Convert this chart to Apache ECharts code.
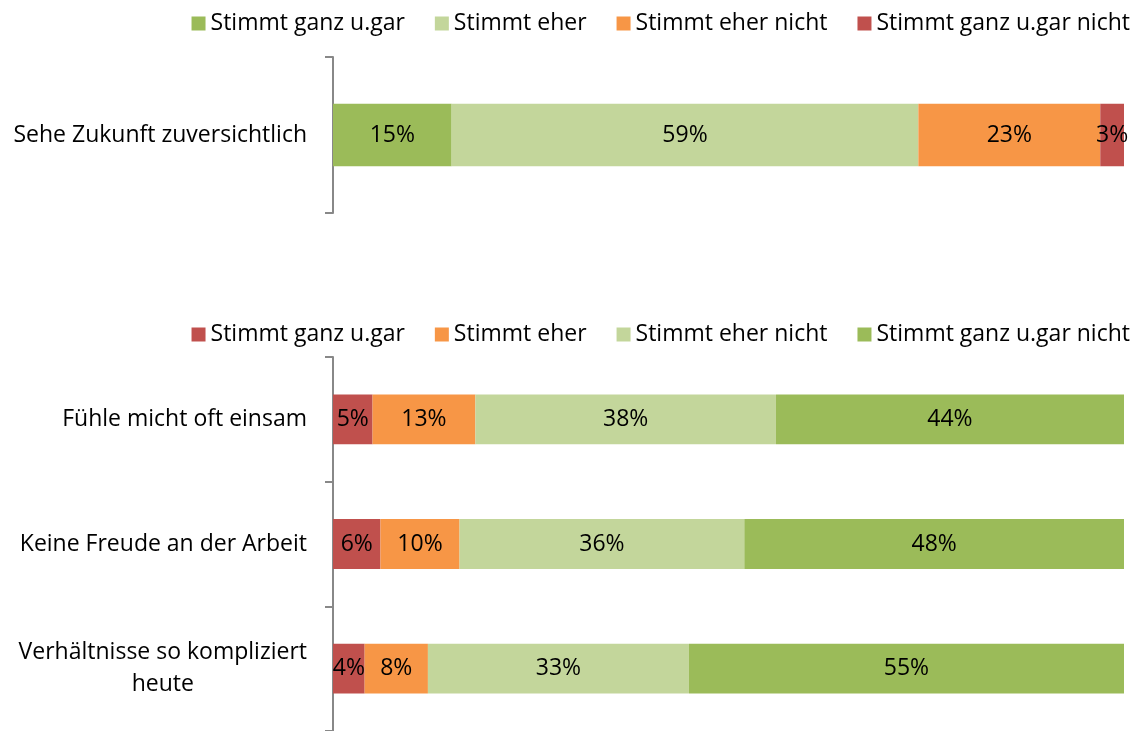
<!DOCTYPE html>
<html>
<head>
<meta charset="utf-8">
<script src="https://cdn.jsdelivr.net/npm/echarts@6/dist/echarts.min.js"></script>
<style>
  html, body { margin: 0; padding: 0; background: #fff; }
  #top { position: absolute; left: 0; top: 0; width: 1146px; height: 300px; }
  #bottom { position: absolute; left: 0; top: 300px; width: 1146px; height: 431px; }
</style>
</head>
<body>
<div id="top"></div>
<div id="bottom"></div>
<script>
// Survey answers, shares in percent
const topCategories = ['Sehe Zukunft zuversichtlich'];
const topSeriesNames = ['Stimmt ganz u.gar', 'Stimmt eher', 'Stimmt eher nicht', 'Stimmt ganz u.gar nicht'];
const topValues = [[15], [59], [23], [3]];

const bottomCategories = ['Fühle micht oft einsam', 'Keine Freude an der Arbeit', 'Verhältnisse so kompliziert\nheute'];
const bottomSeriesNames = ['Stimmt ganz u.gar', 'Stimmt eher', 'Stimmt eher nicht', 'Stimmt ganz u.gar nicht'];
const bottomValues = [[5, 6, 4], [13, 10, 8], [38, 36, 33], [44, 48, 55]];

const GREEN = '#9BBB59', LIGHT = '#C3D69B', ORANGE = '#F79646', RED = '#C0504D';
const topColors = [GREEN, LIGHT, ORANGE, RED];
const bottomColors = [RED, ORANGE, LIGHT, GREEN];

const FONT = 'Open Sans';
const FS = 23;

function build(categories, names, values, colors, gridTop, gridHeight, legendTop) {
  return {
    animation: false,
    textStyle: { fontFamily: FONT },
    legend: {
      top: legendTop, right: 11,
      itemWidth: 14, itemHeight: 14, itemGap: 30,
      icon: 'rect',
      textStyle: { fontFamily: FONT, fontSize: FS, color: '#000' },
      data: names
    },
    grid: { left: 333, width: 791, top: gridTop, height: gridHeight },
    xAxis: {
      type: 'value', min: 0, max: 100, show: false
    },
    yAxis: {
      type: 'category', data: categories, inverse: true,
      axisLine: { show: true, lineStyle: { color: '#888', width: 2 } },
      axisTick: { show: true, length: 8, lineStyle: { color: '#888', width: 2 } },
      axisLabel: {
        margin: 26, color: '#000', fontFamily: FONT, fontSize: FS,
        formatter: v => '{c|' + v + '}',
        rich: { c: { align: 'center', fontFamily: FONT, fontSize: FS, lineHeight: 32, color: '#000' } }
      }
    },
    series: names.map((n, i) => ({
      name: n, type: 'bar', stack: 'all', data: values[i],
      barCategoryGap: '60%',
      itemStyle: { color: colors[i] },
      label: {
        show: true, position: 'inside', formatter: '{c}%',
        color: '#000', fontFamily: FONT, fontSize: FS
      }
    }))
  };
}

echarts.init(document.getElementById('top')).setOption(
  build(topCategories, topSeriesNames, topValues, topColors, 57, 156, 7));
echarts.init(document.getElementById('bottom')).setOption(
  build(bottomCategories, bottomSeriesNames, bottomValues, bottomColors, 57, 378, 18));
</script>
</body>
</html>
